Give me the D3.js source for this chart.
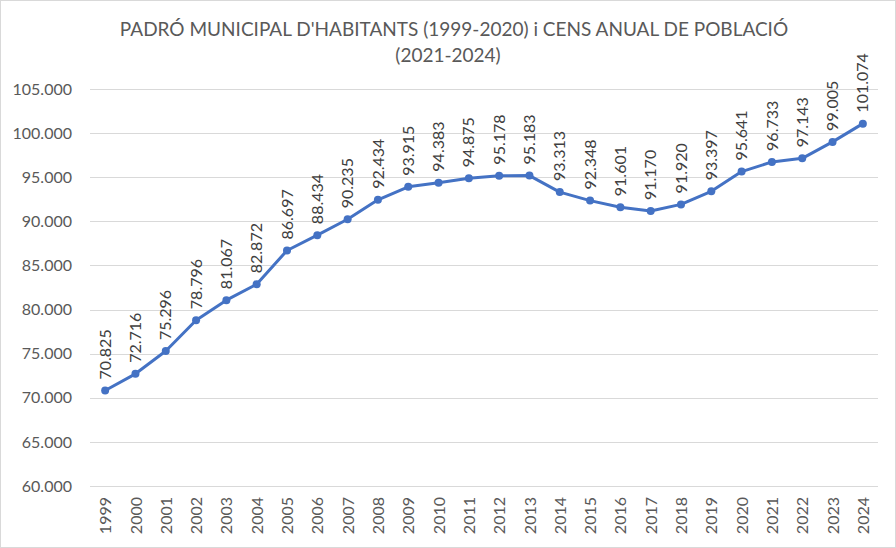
<!DOCTYPE html>
<html>
<head>
<meta charset="utf-8">
<script src="https://cdn.jsdelivr.net/npm/d3@7"></script>
<style>
  body { margin: 0; background: #fff; }
  text { font-family: Lato, 'Open Sans', sans-serif; }
</style>
</head>
<body>
<script>
/* global d3 */

const years = ['1999', '2000', '2001', '2002', '2003', '2004', '2005', '2006', '2007', '2008',
  '2009', '2010', '2011', '2012', '2013', '2014', '2015', '2016', '2017', '2018',
  '2019', '2020', '2021', '2022', '2023', '2024'];

const population = [70825, 72716, 75296, 78796, 81067, 82872, 86697, 88434, 90235, 92434,
  93915, 94383, 94875, 95178, 95183, 93313, 92348, 91601, 91170, 91920,
  93397, 95641, 96733, 97143, 99005, 101074];

const yTicks = [60000, 65000, 70000, 75000, 80000, 85000, 90000, 95000, 100000, 105000];

const titleLines = ["PADRÓ MUNICIPAL D'HABITANTS (1999-2020) i CENS ANUAL DE POBLACIÓ", '(2021-2024)'];

const width = 896;
const height = 548;
const margin = { top: 89, right: 18, bottom: 62, left: 90 };

const locale = d3.formatLocale({ decimal: ',', thousands: '.', grouping: [3], currency: ['', '€'] });
const fmt = locale.format(',.0f');

const svg = d3.select('body').append('svg')
  .attr('width', width)
  .attr('height', height);

// outer frame
svg.append('rect')
  .attr('x', 0.5).attr('y', 0.5)
  .attr('width', width - 1).attr('height', height - 1)
  .attr('fill', '#fff')
  .attr('stroke', '#d9d9d9');

const x = d3.scalePoint()
  .domain(years)
  .range([margin.left, width - margin.right])
  .padding(0.5);

const y = d3.scaleLinear()
  .domain([60000, 105000])
  .range([height - margin.bottom, margin.top]);

// title
svg.append('text')
  .attr('x', 454)
  .attr('y', 36)
  .attr('text-anchor', 'middle')
  .attr('font-size', 19)
  .attr('fill', '#595959')
  .selectAll('tspan').data(titleLines)
  .enter().append('tspan')
    .attr('x', (d, i) => i === 0 ? 454 : 448)
    .attr('dy', (d, i) => i === 0 ? 0 : 26)
    .text(d => d);

// gridlines
svg.append('g')
  .selectAll('line').data(yTicks)
  .enter().append('line')
    .attr('x1', margin.left)
    .attr('x2', width - margin.right)
    .attr('y1', d => Math.round(y(d)) + 0.5)
    .attr('y2', d => Math.round(y(d)) + 0.5)
    .attr('stroke', '#d9d9d9')
    .attr('stroke-width', 1);

// y axis labels
const yAxis = svg.append('g')
  .attr('transform', `translate(${margin.left - 18},0)`)
  .call(d3.axisLeft(y).tickValues(yTicks).tickFormat(fmt).tickSize(0).tickPadding(0));
yAxis.select('.domain').remove();
yAxis.selectAll('text')
  .attr('font-size', 16)
  .attr('fill', '#595959')
  .attr('font-family', "Lato, 'Open Sans', sans-serif");

// x axis labels
const xAxis = svg.append('g')
  .attr('transform', `translate(0,${height - margin.bottom})`)
  .call(d3.axisBottom(x).tickSize(0).tickPadding(0));
xAxis.select('.domain').remove();
xAxis.selectAll('text')
  .attr('font-size', 16)
  .attr('fill', '#595959')
  .attr('font-family', "Lato, 'Open Sans', sans-serif")
  .attr('text-anchor', 'end')
  .attr('transform', 'rotate(-90)')
  .attr('x', -11)
  .attr('y', 0)
  .attr('dy', '0.35em');

const series = years.map((yr, i) => ({ year: yr, value: population[i] }));

// line
svg.append('path')
  .datum(series)
  .attr('fill', 'none')
  .attr('stroke', '#4472c4')
  .attr('stroke-width', 3)
  .attr('stroke-linejoin', 'round')
  .attr('stroke-linecap', 'round')
  .attr('d', d3.line().x(d => x(d.year)).y(d => y(d.value)));

// markers
svg.append('g')
  .selectAll('circle').data(series)
  .enter().append('circle')
    .attr('cx', d => x(d.year))
    .attr('cy', d => y(d.value))
    .attr('r', 4)
    .attr('fill', '#4472c4');

// data labels
svg.append('g')
  .selectAll('text').data(series)
  .enter().append('text')
    .attr('transform', d => `translate(${x(d.year)},${y(d.value) - 11}) rotate(-90)`)
    .attr('dy', '0.35em')
    .attr('font-size', 16)
    .attr('fill', '#404040')
    .text(d => fmt(d.value));
</script>
</body>
</html>
